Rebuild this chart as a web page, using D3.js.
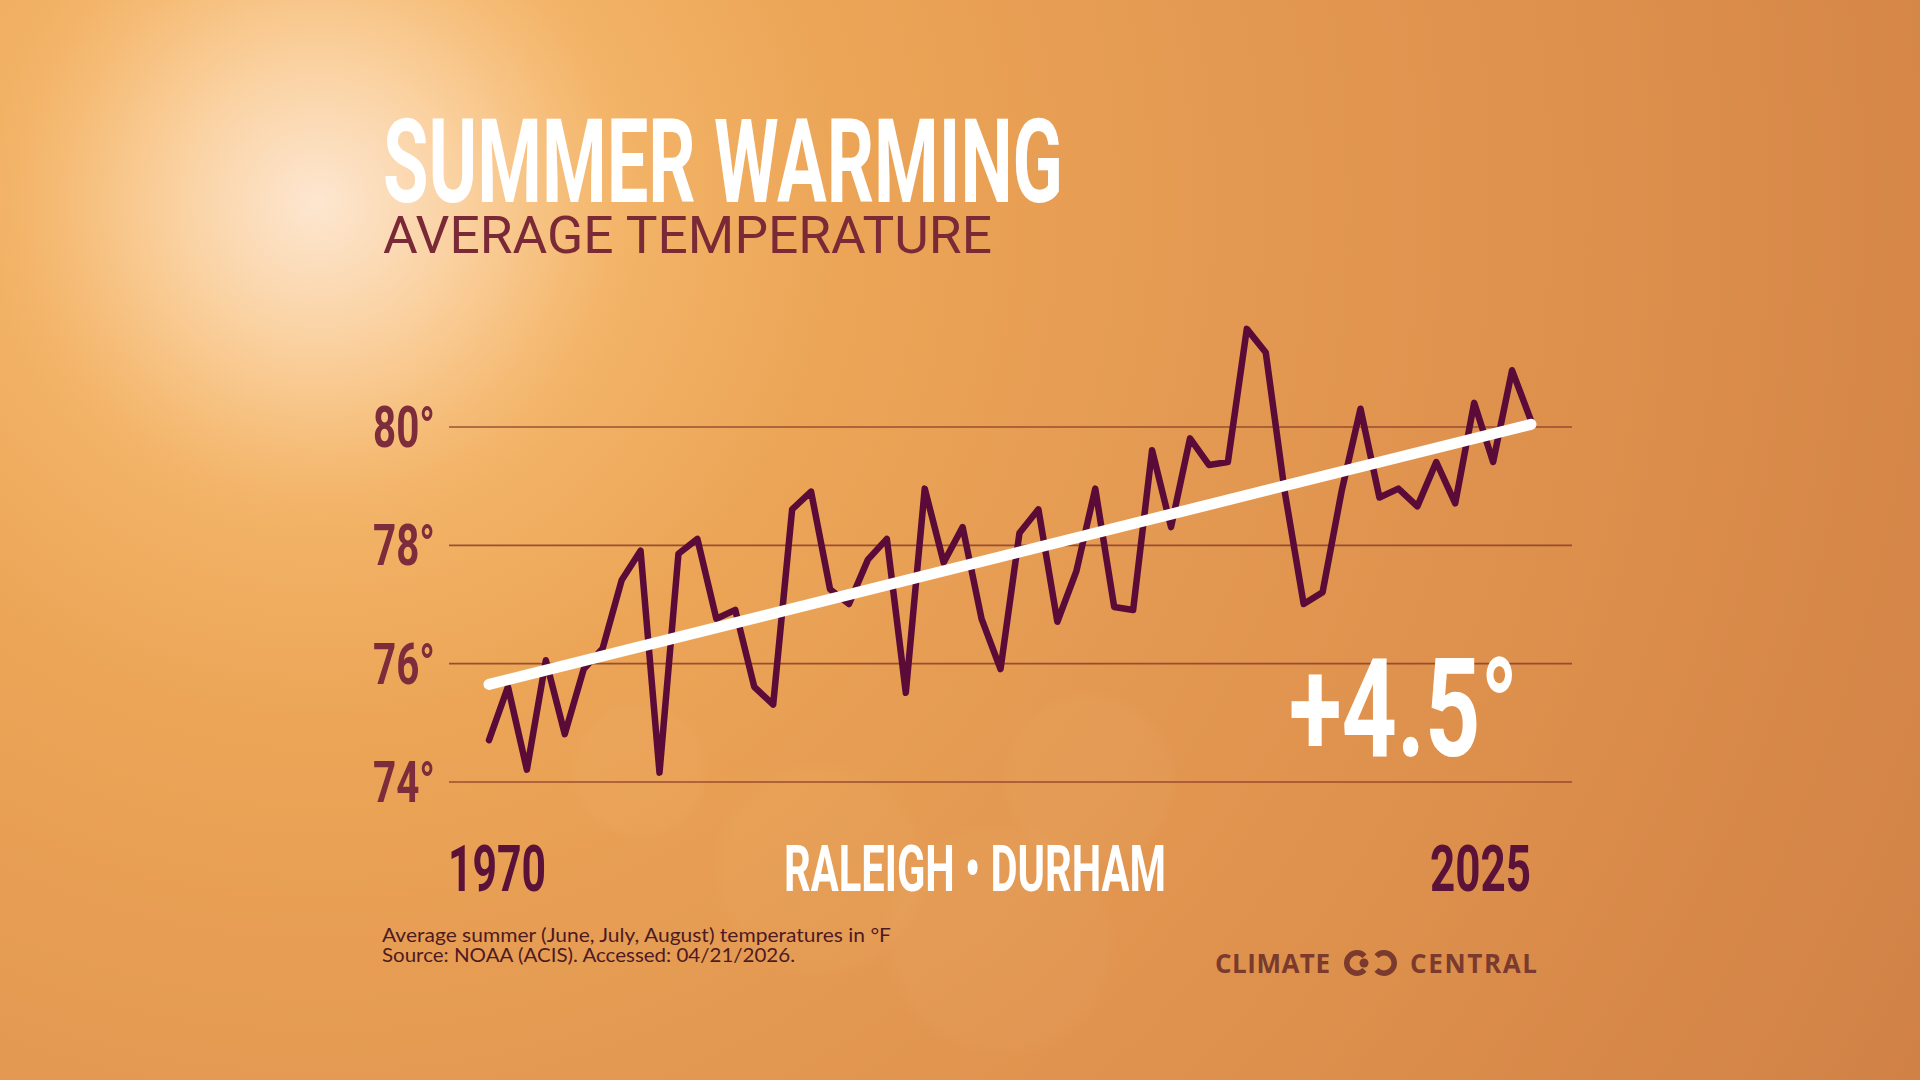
<!DOCTYPE html>
<html>
<head>
<meta charset="utf-8">
<script src="https://cdn.jsdelivr.net/npm/d3@7/dist/d3.min.js"></script>
<style>
  html, body { margin: 0; padding: 0; width: 1920px; height: 1080px; overflow: hidden; background: #e39a52; }
  svg { display: block; }
</style>
</head>
<body>
<svg id="chart" width="1920" height="1080"></svg>
<script>
// ---- data ----
const years = [1970,1971,1972,1973,1974,1975,1976,1977,1978,1979,
               1980,1981,1982,1983,1984,1985,1986,1987,1988,1989,
               1990,1991,1992,1993,1994,1995,1996,1997,1998,1999,
               2000,2001,2002,2003,2004,2005,2006,2007,2008,2009,
               2010,2011,2012,2013,2014,2015,2016,2017,2018,2019,
               2020,2021,2022,2023,2024,2025];
const temps = [74.7,75.6,74.2,76.05,74.8,75.9,76.25,77.4,77.9,74.15,
               77.85,78.1,76.75,76.9,75.6,75.3,78.6,78.9,77.25,77.0,
               77.75,78.1,75.5,78.95,77.7,78.3,76.75,75.9,78.2,78.6,
               76.7,77.55,78.95,76.95,76.9,79.6,78.3,79.8,79.35,79.4,
               81.65,81.25,78.9,77.0,77.2,78.9,80.3,78.8,78.95,78.65,
               79.4,78.7,80.4,79.4,80.95,80.1];
const yTicks = [74, 76, 78, 80];
const titleText = "SUMMER WARMING";
const subtitleText = "AVERAGE TEMPERATURE";
const changeLabel = "+4.5°";
const placeLabel = "RALEIGH • DURHAM";
const footnotes = ["Average summer (June, July, August) temperatures in °F",
                   "Source: NOAA (ACIS). Accessed: 04/21/2026."];

// ---- setup ----
const svg = d3.select("#chart");
const W = 1920, H = 1080;
const defs = svg.append("defs");

// background gradients
const bg = defs.append("radialGradient").attr("id", "bg")
  .attr("gradientUnits", "userSpaceOnUse").attr("cx", 320).attr("cy", 200).attr("r", 2100);
[[0, "#fbdcbc"], [0.07, "#f8c98e"], [0.14, "#f3b468"], [0.25, "#eca557"],
 [0.42, "#e49a52"], [0.62, "#dd8f4c"], [0.82, "#d38447"], [1, "#c97843"]]
  .forEach(([o, c]) => bg.append("stop").attr("offset", o).attr("stop-color", c));

const glow = defs.append("radialGradient").attr("id", "glow")
  .attr("gradientUnits", "userSpaceOnUse").attr("cx", 315).attr("cy", 205).attr("r", 330);
[[0, "#fff1e4", 0.5], [0.4, "#ffe3c8", 0.32], [0.75, "#ffd4a6", 0.1], [1, "#ffd4a6", 0]]
  .forEach(([o, c, a]) => glow.append("stop").attr("offset", o).attr("stop-color", c).attr("stop-opacity", a));

const bokeh = defs.append("radialGradient").attr("id", "bokeh");
[[0, 0.045], [0.85, 0.04], [1, 0]].forEach(([o, a]) =>
  bokeh.append("stop").attr("offset", o).attr("stop-color", "#ffe0b0").attr("stop-opacity", a));

svg.append("rect").attr("width", W).attr("height", H).attr("fill", "url(#bg)");
svg.append("rect").attr("width", W).attr("height", H).attr("fill", "url(#glow)");
[[820, 870, 110], [1090, 780, 90], [640, 770, 70], [1000, 940, 120]].forEach(([cx, cy, r]) =>
  svg.append("circle").attr("cx", cx).attr("cy", cy).attr("r", r).attr("fill", "url(#bokeh)"));

// ---- scales ----
const x = d3.scaleLinear().domain([1970, 2025]).range([489, 1531]);
const y = d3.scaleLinear().domain([74, 80]).range([781.5, 426.5]);

// gridlines
const grid = svg.append("g")
  .attr("transform", "translate(449,0)")
  .call(d3.axisLeft(y).tickValues(yTicks).tickSize(-(1572 - 449)).tickFormat(""));
grid.select(".domain").remove();
grid.selectAll(".tick line").attr("stroke", "#8c3f2c").attr("stroke-width", 1.6).attr("stroke-opacity", 0.85);

// y labels
const cond = "Roboto, 'DejaVu Sans Condensed', sans-serif";
svg.append("g").selectAll("text").data(yTicks).join("text")
  .attr("x", 435).attr("y", d => y(d) + 20.5)
  .attr("text-anchor", "end")
  .attr("font-family", cond).attr("font-weight", 700).attr("font-size", 58)
  .attr("textLength", 62).attr("lengthAdjust", "spacingAndGlyphs")
  .attr("fill", "#7c2c3a")
  .text(d => d + "°");

// data line
const pts = years.map((yr, i) => [yr, temps[i]]);
svg.append("path").datum(pts)
  .attr("fill", "none").attr("stroke", "#5b0b37").attr("stroke-width", 6.5)
  .attr("stroke-linejoin", "round").attr("stroke-linecap", "round")
  .attr("d", d3.line().x(d => x(d[0])).y(d => y(d[1])));

// trend line (least squares)
const mx = d3.mean(years), my = d3.mean(temps);
let sxy = 0, sxx = 0;
years.forEach((yr, i) => { sxy += (yr - mx) * (temps[i] - my); sxx += (yr - mx) * (yr - mx); });
const slope = sxy / sxx;
const trend = [years[0], years[years.length - 1]].map(yr => [yr, my + slope * (yr - mx)]);
svg.append("path").datum(trend)
  .attr("fill", "none").attr("stroke", "#ffffff").attr("stroke-width", 11)
  .attr("stroke-linecap", "round")
  .attr("d", d3.line().x(d => x(d[0])).y(d => y(d[1])));

// ---- text ----
svg.append("text").attr("x", 383).attr("y", 202)
  .attr("font-family", cond).attr("font-weight", 700).attr("font-size", 117)
  .attr("textLength", 680).attr("lengthAdjust", "spacingAndGlyphs")
  .attr("fill", "#ffffff").text(titleText);

svg.append("text").attr("x", 383).attr("y", 253)
  .attr("font-family", "Roboto, sans-serif").attr("font-weight", 400).attr("font-size", 52)
  .attr("textLength", 609).attr("lengthAdjust", "spacingAndGlyphs")
  .attr("fill", "#7a2a36").text(subtitleText);

svg.append("text").attr("x", 1289).attr("y", 756)
  .attr("font-family", cond).attr("font-weight", 700).attr("font-size", 137)
  .attr("textLength", 229).attr("lengthAdjust", "spacingAndGlyphs")
  .attr("fill", "#ffffff").text(changeLabel);

const yearLabels = [[years[0], 448, 98], [years[years.length - 1], 1430, 101]];
svg.append("g").selectAll("text").data(yearLabels).join("text")
  .attr("x", d => d[1]).attr("y", 891)
  .attr("font-family", cond).attr("font-weight", 700).attr("font-size", 65)
  .attr("textLength", d => d[2]).attr("lengthAdjust", "spacingAndGlyphs")
  .attr("fill", "#5a1238").text(d => d[0]);

svg.append("text").attr("x", 784).attr("y", 891)
  .attr("font-family", cond).attr("font-weight", 700).attr("font-size", 65)
  .attr("textLength", 382).attr("lengthAdjust", "spacingAndGlyphs")
  .attr("fill", "#ffffff").text(placeLabel);

svg.append("g").selectAll("text").data(footnotes).join("text")
  .attr("x", 382).attr("y", (d, i) => 942 + i * 20)
  .attr("font-family", "Lato, 'Open Sans', sans-serif").attr("font-weight", 400).attr("font-size", 19)
  .attr("textLength", (d, i) => i === 0 ? 509 : 413).attr("lengthAdjust", "spacingAndGlyphs")
  .attr("fill", "#4d1a22").text(d => d);

// logo
const logo = svg.append("g").attr("fill", "#7a3a2e");
logo.append("text").attr("x", 1215).attr("y", 973)
  .attr("font-family", "'Open Sans', Lato, sans-serif").attr("font-weight", 700).attr("font-size", 26)
  .attr("textLength", 115).attr("lengthAdjust", "spacing").text("CLIMATE");
logo.append("text").attr("x", 1410).attr("y", 973)
  .attr("font-family", "'Open Sans', Lato, sans-serif").attr("font-weight", 700).attr("font-size", 26)
  .attr("textLength", 127).attr("lengthAdjust", "spacing").text("CENTRAL");
const gap = 0.75;
logo.append("path")
  .attr("d", d3.arc()({innerRadius: 7.5, outerRadius: 13, startAngle: Math.PI / 2 + gap, endAngle: Math.PI / 2 + 2 * Math.PI - gap}))
  .attr("transform", "translate(1357,963)");
logo.append("path")
  .attr("d", d3.arc()({innerRadius: 7.5, outerRadius: 13, startAngle: -Math.PI / 2 + gap, endAngle: -Math.PI / 2 + 2 * Math.PI - gap}))
  .attr("transform", "translate(1384,963)");
logo.append("circle").attr("cx", 1364).attr("cy", 963).attr("r", 4.5);
</script>
</body>
</html>
